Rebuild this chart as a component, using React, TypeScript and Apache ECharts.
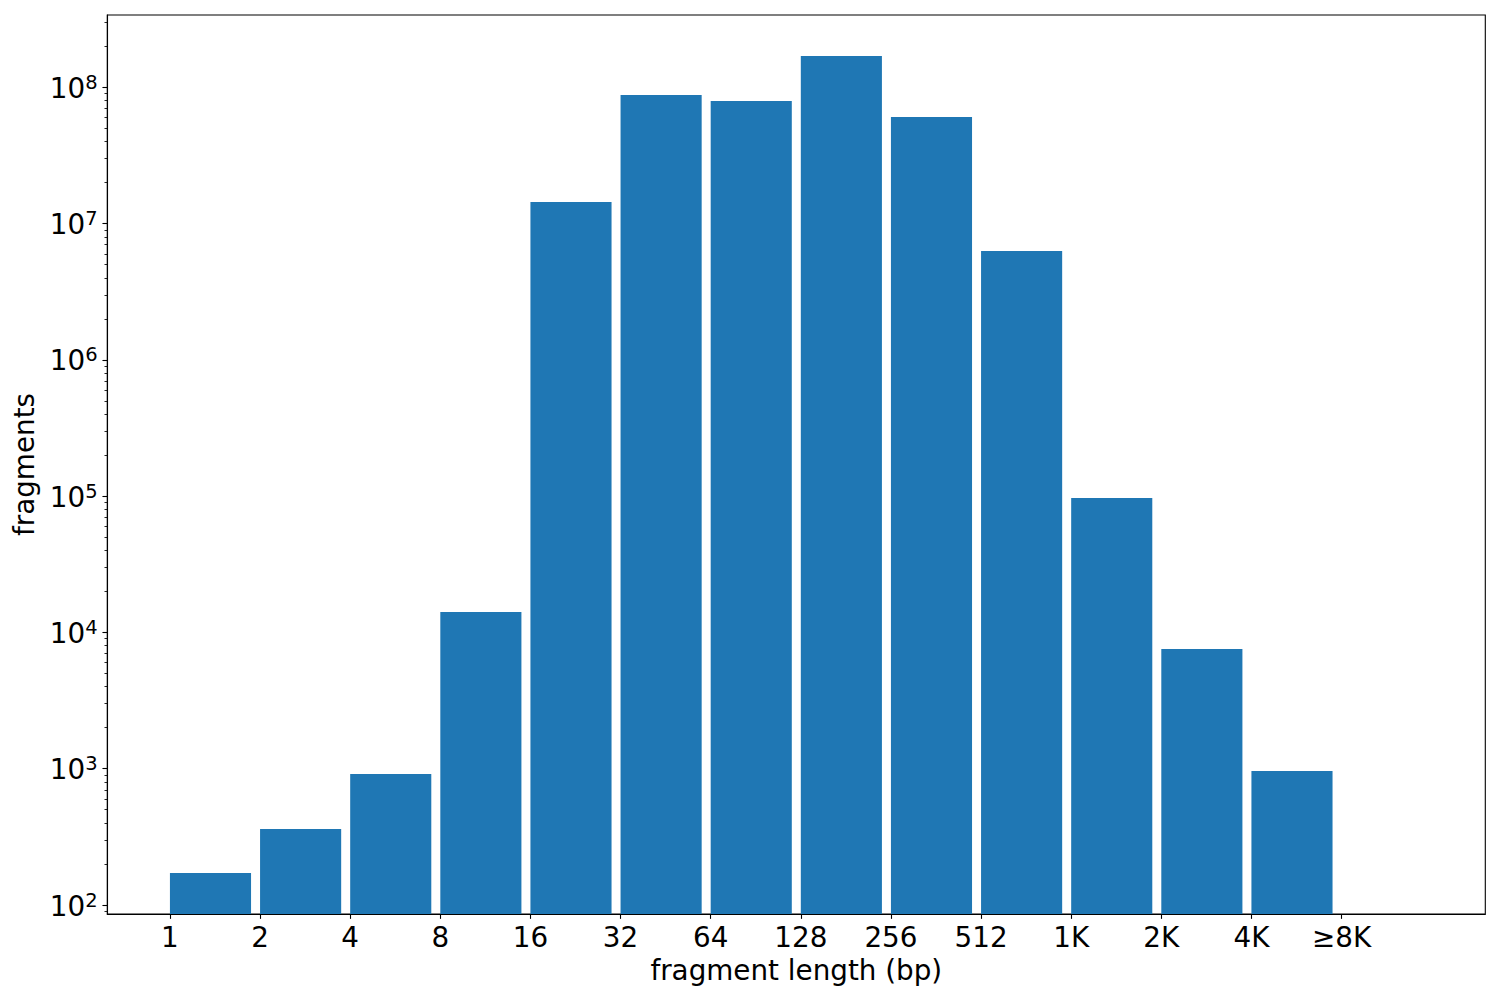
import React, { useEffect, useRef } from "react";
import * as echarts from "echarts";

// Tick labels at the left edge of each bin (bins are powers of two in bp)
const binLabels: string[] = ["1", "2", "4", "8", "16", "32", "64", "128", "256", "512", "1K", "2K", "4K", "≥8K"];

// Fragment counts per bin (last bin ≥8K is empty)
const fragmentCounts: number[] = [
  172, 361, 915, 14100, 1.44e7, 8.78e7, 7.94e7, 1.70e8, 6.06e7, 6.3e6, 96900, 7560, 962,
];

// Axis extents
const xMin = -0.695;
const xMax = 14.595;
const yMin = 85.9;
const yMax = 3.393e8;

const majorYTicks: number[] = [1e2, 1e3, 1e4, 1e5, 1e6, 1e7, 1e8];
const minorYTicks: number[] = (() => {
  const out: number[] = [];
  for (let e = 1; e <= 8; e++) {
    for (let k = 2; k <= 9; k++) out.push(k * Math.pow(10, e));
  }
  return out;
})();

const BAR_COLOR = "#1f77b4";
const BAR_WIDTH = 0.9;
const FONT = "DejaVu Sans";
const FS = 27.8;

export default function App() {
  const ref = useRef<HTMLDivElement>(null);
  useEffect(() => {
    if (!ref.current) return;
    const chart = echarts.init(ref.current, null, { renderer: "svg" });
    const gridRect = { left: 107.3, top: 15, right: 14.7, bottom: 86 };
    const option: any = {
      animation: false,
      backgroundColor: "#ffffff",
      textStyle: { fontFamily: FONT },
      grid: [
        { ...gridRect, containLabel: false, outerBoundsMode: "none", show: true, borderColor: "#000", borderWidth: 1.1, backgroundColor: "transparent" },
        { ...gridRect, containLabel: false, outerBoundsMode: "none", show: false },
      ],
      xAxis: [
        {
          type: "value",
          gridIndex: 0,
          min: xMin,
          max: xMax,
          splitLine: { show: false },
          axisLine: { show: true, onZero: false, lineStyle: { color: "#000", width: 1.1 } },
          axisTick: { show: true, length: 4.86, lineStyle: { color: "#000", width: 1.1 }, customValues: binLabels.map((_, i) => i) },
          axisLabel: {
            show: true,
            margin: 9.7,
            color: "#000",
            fontSize: FS,
            fontFamily: FONT,
            customValues: binLabels.map((_, i) => i),
            formatter: (v: number) => binLabels[Math.round(v)] ?? "",
          },
          name: "fragment length (bp)",
          nameLocation: "middle",
          nameGap: 39,
          nameTextStyle: { color: "#000", fontSize: FS, fontFamily: FONT },
        },
        { type: "value", gridIndex: 1, min: xMin, max: xMax, show: false, axisLine: { onZero: false } },
      ],
      yAxis: [
        {
          type: "log",
          logBase: 10,
          gridIndex: 0,
          min: yMin,
          max: yMax,
          splitLine: { show: false },
          axisLine: { show: true, onZero: false, lineStyle: { color: "#000", width: 1.1 } },
          axisTick: { show: true, length: 4.86, lineStyle: { color: "#000", width: 1.1 }, customValues: majorYTicks },
          axisLabel: {
            show: true,
            margin: 9.7,
            color: "#000",
            fontFamily: FONT,
            customValues: majorYTicks,
            formatter: (v: number) => `{b|10}{s|${Math.round(Math.log10(v))}}`,
            rich: {
              b: { fontSize: FS, fontFamily: FONT, color: "#000", lineHeight: 30, verticalAlign: "bottom", padding: [4, 0, 0, 0] },
              s: { fontSize: 19.5, fontFamily: FONT, color: "#000", lineHeight: 20, verticalAlign: "top" },
            },
          },
          name: "fragments",
          nameLocation: "middle",
          nameRotate: 90,
          nameGap: 68,
          nameTextStyle: { color: "#000", fontSize: FS, fontFamily: FONT },
        },
        {
          type: "log",
          logBase: 10,
          gridIndex: 1,
          min: yMin,
          max: yMax,
          position: "left",
          splitLine: { show: false },
          axisLine: { show: false, onZero: false },
          axisLabel: { show: false },
          axisTick: { show: true, length: 2.8, lineStyle: { color: "#000", width: 0.85 }, customValues: minorYTicks },
        },
      ],
      series: [
        {
          type: "custom",
          xAxisIndex: 0,
          yAxisIndex: 0,
          clip: true,
          data: fragmentCounts.map((c, i) => [i, c]),
          renderItem: (params: any, api: any) => {
            const i = api.value(0);
            const v = api.value(1);
            const p0 = api.coord([i, v]);
            const p1 = api.coord([i + BAR_WIDTH, v]);
            const cs = params.coordSys;
            const bottom = cs.y + cs.height;
            return {
              type: "rect",
              shape: { x: p0[0], y: p0[1], width: p1[0] - p0[0], height: bottom - p0[1] },
              style: { fill: BAR_COLOR },
            };
          },
        },
      ],
    };
    chart.setOption(option);
    return () => chart.dispose();
  }, []);
  return (
    <div
      ref={ref}
      style={{ position: "absolute", left: 0, top: 0, width: 1500, height: 1000, background: "#fff" }}
    />
  );
}
